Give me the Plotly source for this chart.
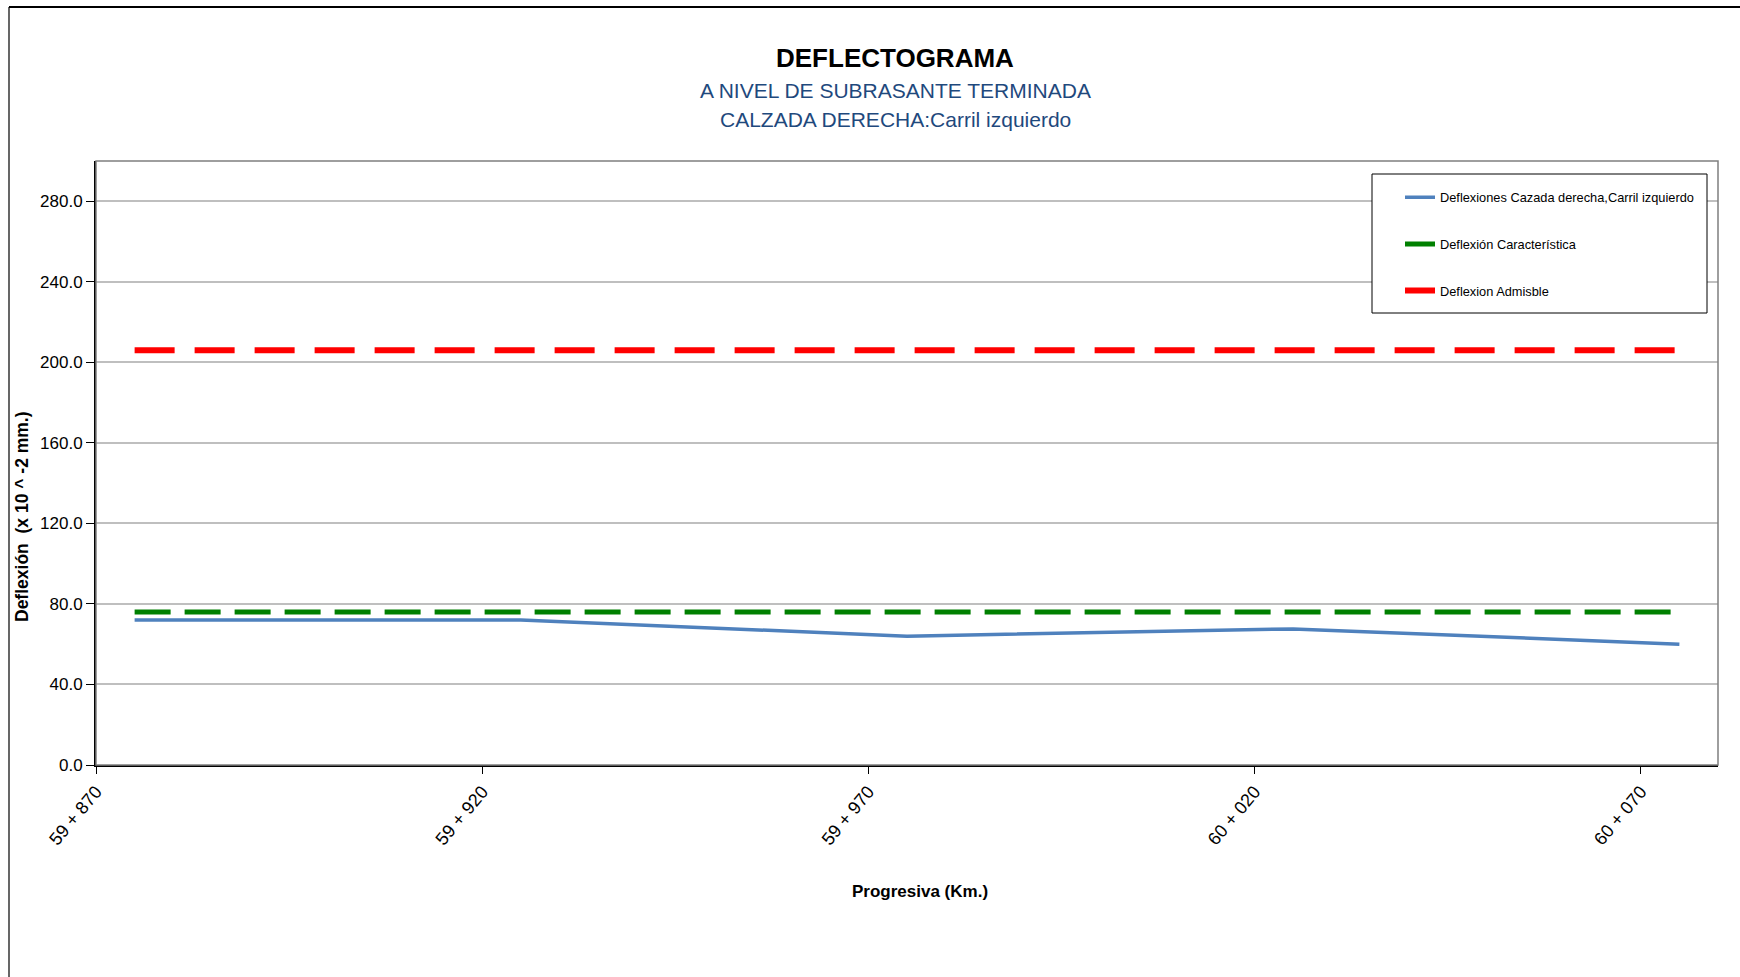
import plotly.graph_objects as go

# Chainage (m) of each measured station and the deflection readings
chainage = [59875, 59925, 59975, 60025, 60075]
deflexiones = [72.0, 72.0, 64.0, 67.6, 60.0]
deflexion_caracteristica = [76.0, 76.0, 76.0, 76.0, 76.0]
deflexion_admisible = [206.0, 206.0, 206.0, 206.0, 206.0]

tick_vals = [59870, 59920, 59970, 60020, 60070]
tick_text = ["59 + 870", "59 + 920", "59 + 970", "60 + 020", "60 + 070"]

FONT = "Liberation Sans Narrow, Arial Narrow, Liberation Sans, Arial, sans-serif"

# plot-area pixel geometry
W, H = 1740, 977
L, R, T, B = 96, 22, 161, 212
pw, ph = W - L - R, H - T - B


def px_x(x):
    return (x - L) / pw


def px_y(y):
    return 1 + (T - y) / ph


fig = go.Figure()
fig.add_trace(go.Scatter(
    x=chainage, y=deflexiones, mode="lines",
    name="Deflexiones Cazada derecha,Carril izquierdo",
    line=dict(color="#4F81BD", width=3.5), legendgroup="a",
))
fig.add_trace(go.Scatter(
    x=chainage, y=deflexion_caracteristica, mode="lines",
    name="Deflexión Característica",
    line=dict(color="#008000", width=5, dash="36px,14px"), legendgroup="b",
))
fig.add_trace(go.Scatter(
    x=chainage, y=deflexion_admisible, mode="lines",
    name="Deflexion Admisble",
    line=dict(color="#FF0000", width=6, dash="40px,20px"), legendgroup="c",
))

annotations = [
    dict(text="<b>DEFLECTOGRAMA</b>", x=px_x(895), y=px_y(58), xref="paper", yref="paper",
         showarrow=False, font=dict(family=FONT, size=26, color="black"),
         xanchor="center", yanchor="middle"),
    dict(text="A NIVEL DE SUBRASANTE TERMINADA", x=px_x(895), y=px_y(91), xref="paper",
         yref="paper", showarrow=False, font=dict(family=FONT, size=21, color="#1F497D"),
         xanchor="center", yanchor="middle"),
    dict(text="CALZADA DERECHA:Carril izquierdo", x=px_x(895), y=px_y(120), xref="paper",
         yref="paper", showarrow=False, font=dict(family=FONT, size=21, color="#1F497D"),
         xanchor="center", yanchor="middle"),
    dict(text="<b>Deflexión  (x 10 ^ -2 mm.)</b>", x=px_x(22), y=px_y(517), xref="paper",
         yref="paper", showarrow=False, textangle=-90,
         font=dict(family=FONT, size=17.5, color="black"),
         xanchor="center", yanchor="middle"),
    dict(text="<b>Progresiva (Km.)</b>", x=px_x(920), y=px_y(891), xref="paper",
         yref="paper", showarrow=False,
         font=dict(family=FONT, size=17, color="black"),
         xanchor="center", yanchor="middle"),
]

shapes = [
    # plot-area frame
    dict(type="rect", xref="paper", yref="paper", x0=0, x1=1, y0=0, y1=1,
         line=dict(color="#7F7F7F", width=1.5), layer="above"),
    # legend box
    dict(type="rect", xref="paper", yref="paper", x0=px_x(1372), x1=px_x(1707),
         y0=px_y(313), y1=px_y(174), line=dict(color="black", width=1),
         fillcolor="white", layer="above"),
    # chart-area frame (left and top edges)
    dict(type="line", xref="paper", yref="paper", x0=px_x(9), x1=px_x(1745),
         y0=px_y(7), y1=px_y(7), line=dict(color="black", width=2)),
    dict(type="line", xref="paper", yref="paper", x0=px_x(9), x1=px_x(9),
         y0=px_y(7), y1=px_y(985), line=dict(color="black", width=1.2)),
]

fig.update_layout(
    width=W, height=H,
    margin=dict(l=L, r=R, t=T, b=B),
    paper_bgcolor="white", plot_bgcolor="white",
    showlegend=True,
    legend=dict(
        x=px_x(1400), y=px_y(182.5), xanchor="left", yanchor="top",
        borderwidth=0, bgcolor="rgba(0,0,0,0)",
        font=dict(family=FONT, size=12.8, color="black"),
        traceorder="grouped", tracegroupgap=27,
    ),
    annotations=annotations,
    shapes=shapes,
    xaxis=dict(
        range=[59870, 60080], tickvals=tick_vals, ticktext=tick_text,
        tickangle=-50, ticks="outside", ticklen=7, tickcolor="black",
        showline=True, linecolor="black", linewidth=2, showgrid=False, zeroline=False,
        tickfont=dict(family=FONT, size=18, color="black"),
    ),
    yaxis=dict(
        range=[0, 300], dtick=40, tick0=0, tickformat=".1f",
        ticks="outside", ticklen=8, tickcolor="black",
        showline=True, linecolor="black", linewidth=2,
        showgrid=True, gridcolor="#BFBFBF", gridwidth=1.5, zeroline=False,
        tickfont=dict(family=FONT, size=17, color="black"),
    ),
)

fig.write_html("out.html")
